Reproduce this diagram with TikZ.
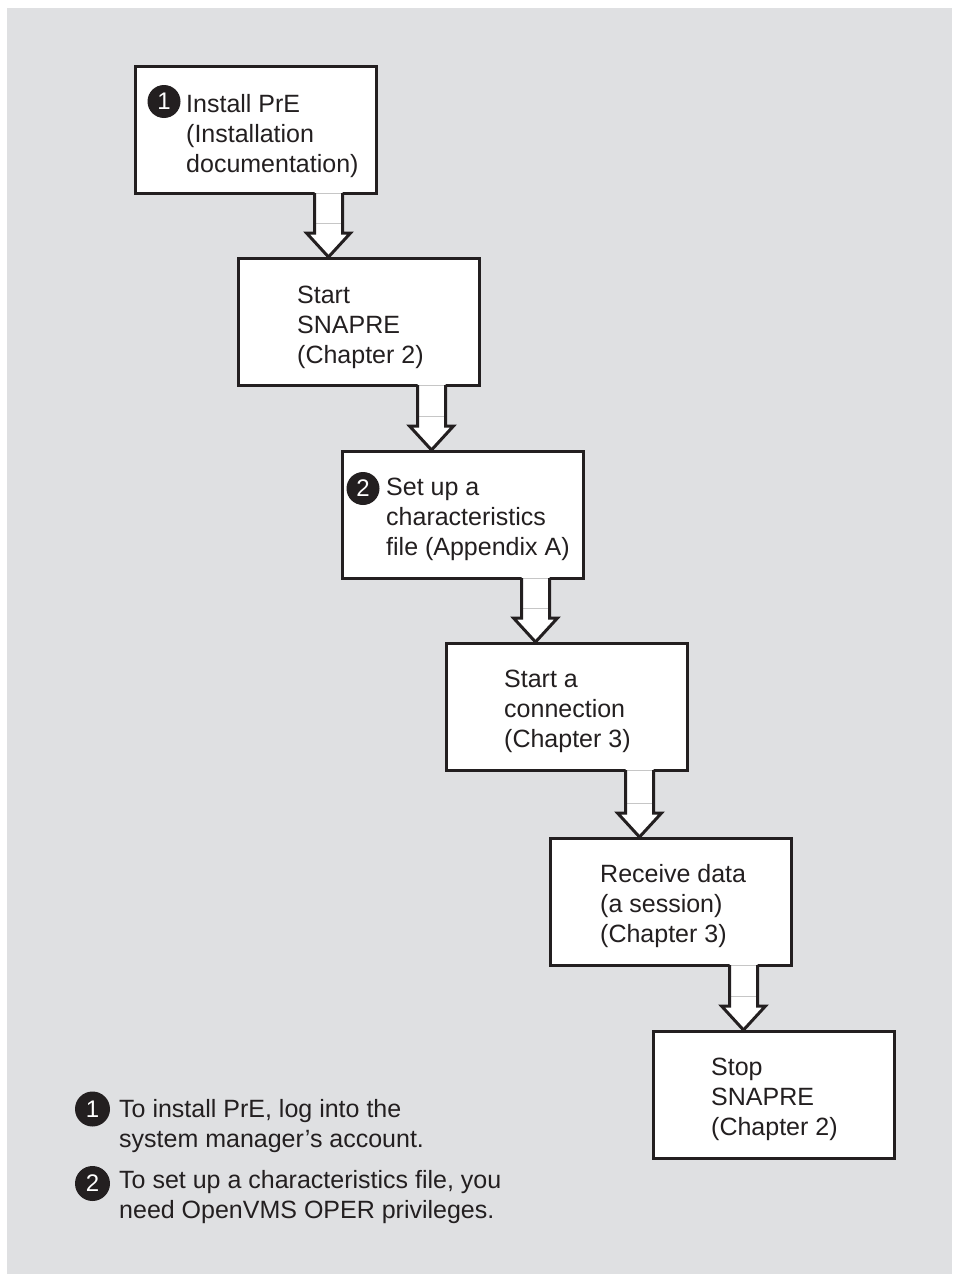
\documentclass[tikz,border=0pt]{standalone}
\usepackage{fontspec}
\setmainfont{Liberation Sans}
\usetikzlibrary{calc}
\definecolor{ink}{HTML}{231F20}
\definecolor{panel}{HTML}{DFE0E2}
\definecolor{seam}{HTML}{C6C6C6}
\tikzset{
  stepbox/.style={draw=ink, line width=3pt, fill=white, minimum width=241pt, minimum height=127pt, inner sep=0pt, outer sep=0pt},
  boxtext/.style={anchor=base west, align=left, inner sep=0pt, text=ink, font=\fontsize{25}{30}\selectfont},
  callout/.style={circle, fill=ink, text=white, inner sep=0pt, minimum size=33pt, font=\fontsize{24}{24}\selectfont},
  bigcallout/.style={callout, minimum size=35pt},
  arrowfill/.style={fill=white},
  arrowedge/.style={draw=ink, line width=3pt, line join=miter},
  seamline/.style={draw=seam, line width=0.8pt},
}
\newcommand\flowarrow[2]{%
  \path[arrowfill] let \p1=(#1.south west), \p2=(#2.north west) in
    (\x1+179.5pt,\y1+1.5pt) -- (\x1+179.5pt,\y2+25pt) -- (\x1+171.5pt,\y2+25pt) -- (\x1+193.5pt,\y2) -- (\x1+215.5pt,\y2+25pt) -- (\x1+207.5pt,\y2+25pt) -- (\x1+207.5pt,\y1+1.5pt) -- cycle;
  \path[seamline] let \p1=(#1.south west), \p2=(#2.north west) in
    (\x1+179.5pt,\y1) -- (\x1+207.5pt,\y1)
    (\x1+179.5pt,\y2+35pt) -- (\x1+207.5pt,\y2+35pt);
  \path[arrowedge] let \p1=(#1.south west), \p2=(#2.north west) in
    (\x1+179.5pt,\y1) -- (\x1+179.5pt,\y2+25pt) -- (\x1+171.5pt,\y2+25pt) -- (\x1+193.5pt,\y2+1pt) -- (\x1+215.5pt,\y2+25pt) -- (\x1+207.5pt,\y2+25pt) -- (\x1+207.5pt,\y1);
}
\begin{document}
\begin{tikzpicture}[x=1pt,y=-1pt]
\useasboundingbox (0,0) rectangle (954,1274);
\fill[white] (0,0) rectangle (954,1274);
\fill[panel] (7,8) rectangle (952,1274);

% boxes
\node[stepbox] (b1) at (255.5,129.5) {};
\node[stepbox] (b2) at (358.5,321.5) {};
\node[stepbox] (b3) at (462.5,514.5) {};
\node[stepbox] (b4) at (566.5,706.5) {};
\node[stepbox] (b5) at (670.5,901.5) {};
\node[stepbox] (b6) at (773.5,1094.5) {};

% arrows
\flowarrow{b1}{b2}
\flowarrow{b2}{b3}
\flowarrow{b3}{b4}
\flowarrow{b4}{b5}
\flowarrow{b5}{b6}

% texts (anchored at the baseline of the last line)
\node[callout] (c1) at (164,101.5) {1};
\node[boxtext] (t1) at (186,172) {Install PrE\\(Installation\\documentation)};
\node[boxtext] (t2) at (297,363) {Start\\SNAPRE\\(Chapter 2)};
\node[callout] (c2) at (363,488.5) {2};
\node[boxtext] (t3) at (386,555) {Set up a\\characteristics\\file (Appendix A)};
\node[boxtext] (t4) at (504,747) {Start a\\connection\\(Chapter 3)};
\node[boxtext] (t5) at (600,942) {Receive data\\(a session)\\(Chapter 3)};
\node[boxtext] (t6) at (711,1135) {Stop\\SNAPRE\\(Chapter 2)};

% footnotes
\node[bigcallout] (n1) at (92.5,1109) {1};
\node[boxtext] (f1) at (119,1147) {To install PrE, log into the\\system manager’s account.};
\node[bigcallout] (n2) at (92.5,1183.5) {2};
\node[boxtext] (f2) at (119,1218) {To set up a characteristics file, you\\need OpenVMS OPER privileges.};
\end{tikzpicture}
\end{document}
